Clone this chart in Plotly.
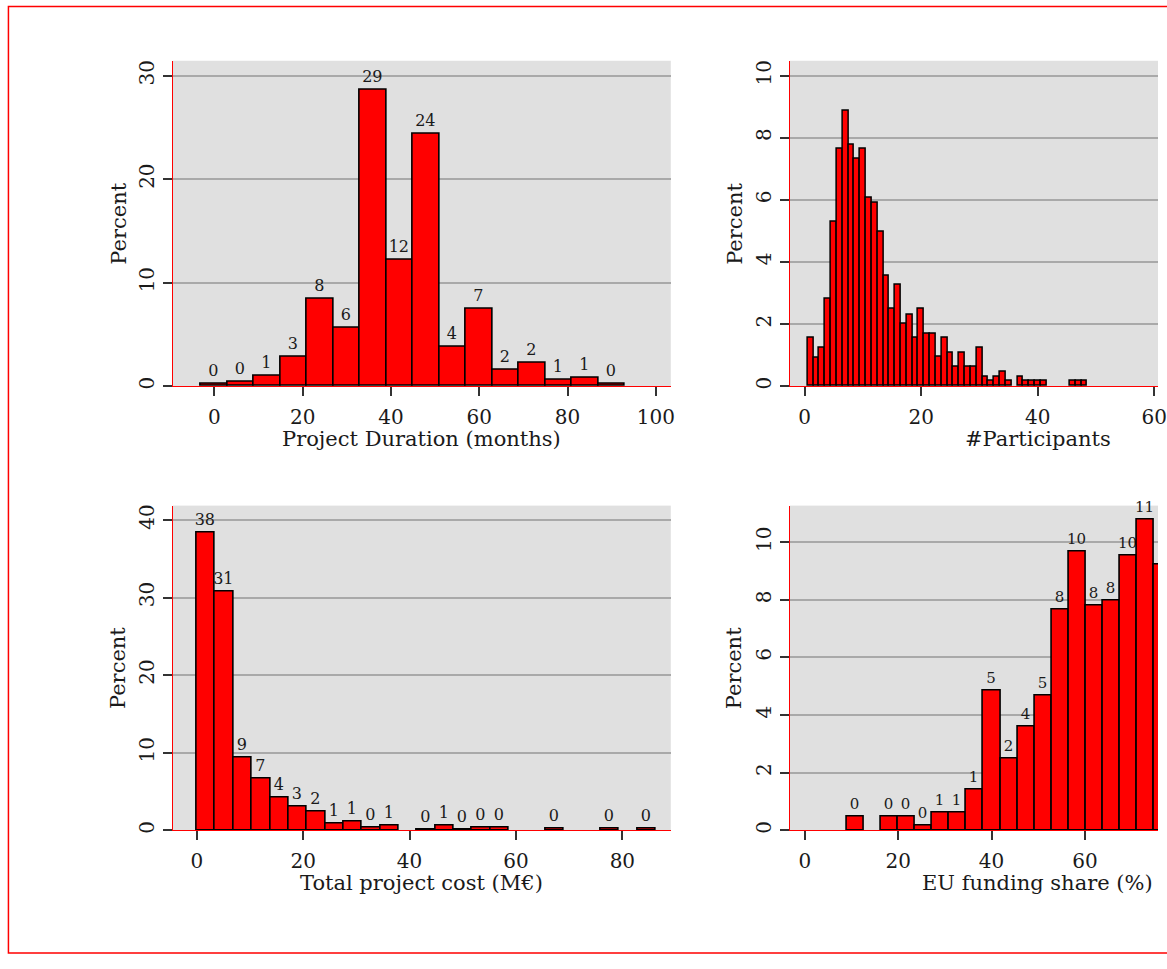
import plotly.graph_objects as go

# ---------------- data (percent of projects per histogram bin) ----------------
dur_bin_start = -3
dur_bin_width = 6
dur_pct = [0.25, 0.45, 1.0, 2.85, 8.4, 5.65, 28.6, 12.2, 24.4, 3.8, 7.45,
           1.6, 2.25, 0.65, 0.8, 0.2]

part_bin_centers = list(range(1, 49))
part_bin_width = 1
part_pct = [1.55, 0.91, 1.24, 2.81, 5.28, 7.63, 8.87, 7.78, 7.32, 7.63,
            6.08, 5.92, 4.98, 3.57, 2.50, 3.26, 2.01, 2.31, 1.56, 2.49,
            1.70, 1.70, 0.94, 1.56, 1.08, 0.62, 1.08, 0.62, 0.62, 1.24,
            0.30, 0.16, 0.30, 0.46, 0.16, None, 0.30, 0.16, 0.16, 0.16,
            0.16, None, None, None, None, 0.16, 0.16, 0.16]

cost_bin_start = 0
cost_bin_width = 3.45
cost_pct = [38.35, 30.8, 9.33, 6.68, 4.2, 3.1, 2.36, 0.86, 1.12, 0.35,
            0.6, None, 0.13, 0.64, 0.13, 0.3, 0.3, None, None, 0.17,
            None, None, 0.17, None, 0.17]

eu_bin_start = 9.0
eu_bin_width = 3.656
eu_pct = [0.47, None, 0.47, 0.47, 0.15, 0.61, 0.61, 1.42, 4.85, 2.48,
          3.6, 4.69, 7.65, 9.68, 7.81, 7.96, 9.52, 10.77, 9.22]

titles_x = ["Project Duration (months)", "#Participants",
            "Total project cost (M€)", "EU funding share (%)"]
y_title = "Percent"

# ---------------- styling ----------------
W, H = 1167, 969
FONT = "DejaVu Serif"
TXT = "#1a1a1a"
RED = "#ff0000"


def px_x(p):
    return p / W


def px_y(p):
    return 1 - p / H


def centers(start, width, n):
    return [start + (i + 0.5) * width for i in range(n)]


def labels(vals):
    return ["" if v is None else f"{v:.0f}" for v in vals]


fig = go.Figure()

bar_style = dict(marker=dict(color=RED, line=dict(color="black", width=1.6)),
                 cliponaxis=False, constraintext="none",
                 textposition="outside", showlegend=False, hoverinfo="x+y")

fig.add_trace(go.Bar(x=centers(dur_bin_start, dur_bin_width, len(dur_pct)),
                     y=dur_pct, width=dur_bin_width, text=labels(dur_pct),
                     textfont=dict(family=FONT, size=16, color=TXT),
                     xaxis="x", yaxis="y", **bar_style))
fig.add_trace(go.Bar(x=part_bin_centers, y=part_pct, width=part_bin_width,
                     xaxis="x2", yaxis="y2",
                     marker=dict(color=RED, line=dict(color="black", width=1.5)),
                     cliponaxis=False, showlegend=False))
fig.add_trace(go.Bar(x=centers(cost_bin_start, cost_bin_width, len(cost_pct)),
                     y=cost_pct, width=cost_bin_width, text=labels(cost_pct),
                     textfont=dict(family=FONT, size=16, color=TXT),
                     xaxis="x3", yaxis="y3", **bar_style))
fig.add_trace(go.Bar(x=centers(eu_bin_start, eu_bin_width, len(eu_pct)),
                     y=eu_pct, width=eu_bin_width, text=labels(eu_pct),
                     textfont=dict(family=FONT, size=15, color=TXT),
                     xaxis="x4", yaxis="y4", **bar_style))

tickfont = dict(family=FONT, size=20, color=TXT)
common_x = dict(showgrid=False, zeroline=False, showline=True, linecolor=RED,
                linewidth=1.2, ticks="outside", ticklen=9, tickwidth=1.5,
                tickcolor="#333333", tickfont=tickfont, ticklabelstandoff=4,
                ticklabeloverflow="allow")
common_y = dict(showgrid=True, gridcolor="#a9a9a9", gridwidth=1.8,
                zeroline=False, showline=True, linecolor=RED, linewidth=1.2,
                ticks="outside", ticklen=9, tickwidth=1.5, tickcolor="#333333",
                tickfont=tickfont, tickangle=-90, ticklabelstandoff=1)

left_dom = [px_x(174), px_x(676)]
right_dom = [px_x(796), 1.0]
top_dom = [px_y(386.7), px_y(60)]
bot_dom = [px_y(832.7), px_y(506.7)]

fig.update_layout(
    width=W, height=H,
    margin=dict(l=0, r=0, t=0, b=0, pad=0),
    paper_bgcolor="white", plot_bgcolor="#e0e0e0",
    bargap=0,
    font=dict(family=FONT, color=TXT),
    xaxis=dict(domain=left_dom, range=[-9.44, 103.37], anchor="y",
               tickvals=[0, 20, 40, 60, 80, 100], **common_x),
    yaxis=dict(domain=top_dom, range=[0, 31.44], anchor="x",
               tickvals=[0, 10, 20, 30], **common_y),
    xaxis2=dict(domain=right_dom, range=[-2.55, 60.63], anchor="y2",
                tickvals=[0, 20, 40, 60], **common_x),
    yaxis2=dict(domain=top_dom, range=[0, 10.48], anchor="x2",
                tickvals=[0, 2, 4, 6, 8, 10], **common_y),
    xaxis3=dict(domain=left_dom, range=[-4.53, 89.1], anchor="y3",
                tickvals=[0, 20, 40, 60, 80], **common_x),
    yaxis3=dict(domain=bot_dom, range=[0, 41.85], anchor="x3",
                tickvals=[0, 10, 20, 30, 40], **common_y),
    xaxis4=dict(domain=right_dom, range=[-3.19, 75.66], anchor="y4",
                tickvals=[0, 20, 40, 60], **common_x),
    yaxis4=dict(domain=bot_dom, range=[0, 11.27], anchor="x4",
                tickvals=[0, 2, 4, 6, 8, 10], **common_y),
)

# axis titles
title_font = dict(family=FONT, size=21, color=TXT)
ann = []
for (cx, cy, t) in [(425, 440, titles_x[0]), (1046.5, 440, titles_x[1]),
                    (425, 886, titles_x[2]), (1046, 886, titles_x[3])]:
    ann.append(dict(x=px_x(cx), y=px_y(cy), xref="paper", yref="paper",
                    text=t, showarrow=False, font=title_font,
                    xanchor="center", yanchor="middle"))
for (cx, cy) in [(119, 223.5), (740, 223.5), (119, 669.7), (740, 669.7)]:
    ann.append(dict(x=px_x(cx), y=px_y(cy), xref="paper", yref="paper",
                    text=y_title, showarrow=False, font=title_font,
                    textangle=-90, xanchor="center", yanchor="middle"))
fig.update_layout(annotations=ann)

# outer graph border (right side lies beyond the cropped view)
fig.add_shape(type="rect", xref="paper", yref="paper",
              x0=px_x(8.5), x1=px_x(1190), y0=px_y(956), y1=px_y(5.5),
              line=dict(color=RED, width=1.5), fillcolor="rgba(0,0,0,0)",
              layer="above")

# remove the default 8px body margin so the figure fills the window exactly
fig.write_html("out.html", config={"displayModeBar": False},
               post_script="document.body.style.margin='0px';"
                           "document.body.style.overflow='hidden';")
